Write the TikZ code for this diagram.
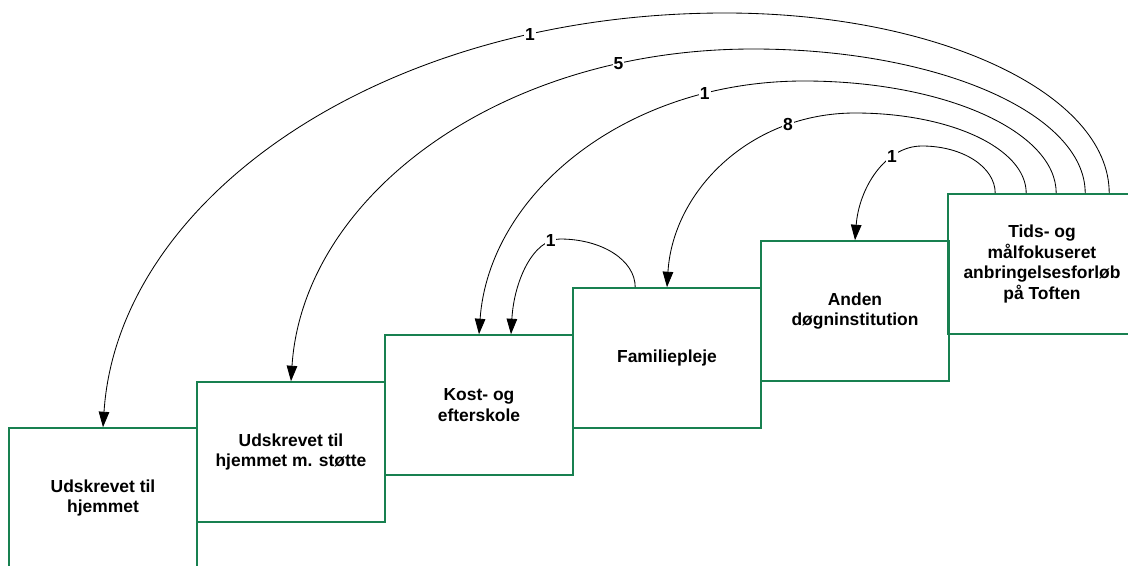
\documentclass[tikz,border=0pt]{standalone}
\usepackage{fontspec}
\setmainfont{Liberation Sans}
\usetikzlibrary{arrows.meta,calc}
\definecolor{boxgreen}{RGB}{24,128,80}
\begin{document}
\begin{tikzpicture}[x=0.025cm, y=-0.025cm,
        box/.style={draw=boxgreen, line width=1.1pt, minimum width=4.7cm, minimum height=3.5cm, inner sep=0pt, align=center, font=\fontsize{12.4}{14.6}\selectfont\bfseries},
        move/.style={line width=0.6pt, -{Triangle[width=7.5pt,length=11pt]}},
        count/.style={fill=white, inner sep=0.6pt, font=\fontsize{12.4}{14.6}\selectfont\bfseries}]

        \path [use as bounding box, clip] (0,0) rectangle (1128,565);

        \node (hjem) at (103,498) [box] {Udskrevet til\\hjemmet};
        \node (stoette) at (291,452) [box] {Udskrevet til\\hjemmet m. støtte};
        \node (kost) at (479,405) [box] {Kost- og\\efterskole};
        \node (pleje) at (667,358) [box] {Familiepleje};
        \node (anden) at (855,311) [box] {Anden\\døgninstitution};
        \node (toften) at (1042,264) [box] {Tids- og\\målfokuseret\\anbringelsesforløb\\på Toften};

        \draw [move] ($(toften.north west)+(48,0)$) .. controls +(0,-26) and +(41,0) .. (922,146)
            .. controls +(-37,0) and +(4,-52) .. (anden.north) node [count, pos=0.3] {1};
        \draw [move] ($(toften.north west)+(79,0)$) .. controls +(0,-45) and +(95,0) .. (855,113)
            .. controls +(-104,0) and +(6,-97) .. (pleje.north) node [count, pos=0.23] {8};
        \draw [move] ($(toften.north west)+(109,0)$) .. controls +(0,-62) and +(140,0) .. (804,81)
            .. controls +(-179,0) and +(10,-140) .. (kost.north) node [count, pos=0.195] {1};
        \draw [move] ($(toften.north west)+(138,0)$) .. controls +(0,-80) and +(184,0) .. (753,49)
            .. controls +(-255,0) and +(12,-184) .. (stoette.north) node [count, pos=0.185] {5};
        \draw [move] ($(toften.north west)+(162,0)$) .. controls +(0,-100) and +(212,0) .. (725,13)
            .. controls +(-343,0) and +(15,-229) .. (hjem.north) node [count, pos=0.2] {1};

        \draw [move] ($(pleje.north west)+(63,0)$) .. controls +(0,-27) and +(42,0) .. (560,239)
            .. controls +(-27,0) and +(3,-53) .. ($(kost.north)+(32,0)$) node [count, pos=0.12] {1};

    \end{tikzpicture}
\end{document}
